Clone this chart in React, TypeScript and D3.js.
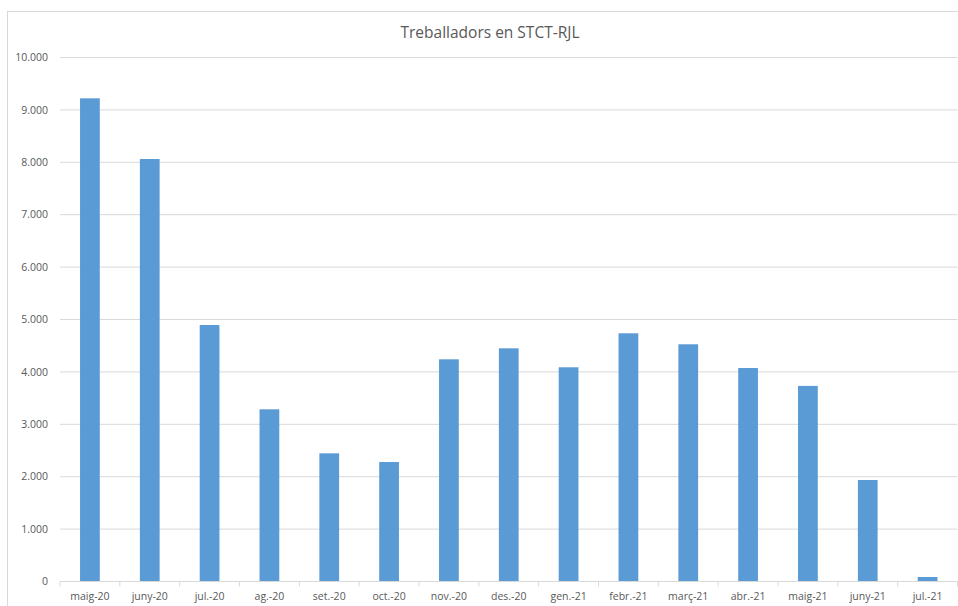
import React from "react";
import * as d3 from "d3";

const categories = ["maig-20", "juny-20", "jul.-20", "ag.-20", "set.-20", "oct.-20", "nov.-20", "des.-20", "gen.-21", "febr.-21", "març-21", "abr.-21", "maig-21", "juny-21", "jul.-21"];
const values = [9221, 8063, 4895, 3286, 2446, 2280, 4240, 4450, 4088, 4737, 4527, 4074, 3733, 1937, 86];
const yTicks = [0, 1000, 2000, 3000, 4000, 5000, 6000, 7000, 8000, 9000, 10000];
const title = "Treballadors en STCT-RJL";

const W = 958, H = 606;
const left = 60, right = 957.5, top = 57.5, bottom = 581.5;
const font = "'Open Sans', 'Liberation Sans', sans-serif";

export default function App() {
  const x = d3.scaleBand<string>().domain(categories).range([left, right]).paddingInner(0.67).paddingOuter(0.335);
  const xc = d3.scaleBand<string>().domain(categories).range([left, right]);
  const y = d3.scaleLinear().domain([0, 10000]).range([bottom, top]);
  const fmt = (v: number) => d3.formatLocale({ decimal: ",", thousands: ".", grouping: [3], currency: ["", "€"] }).format(",")(v);
  return (
    <svg width={W} height={H} style={{ position: "absolute", left: 0, top: 0, background: "#fff" }} fontFamily={font}>
      <rect x={7.5} y={11.5} width={W} height={H} fill="#fff" stroke="#d9d9d9" />
      <text x={490} y={38} textAnchor="middle" fontSize={15.5} fill="#595959">{title}</text>
      {yTicks.map((t) => (
        <g key={t}>
          {t > 0 && <line x1={left} x2={right} y1={y(t)} y2={y(t)} stroke="#d9d9d9" strokeWidth={1} />}
          <text x={48} y={y(t)} dy="0.35em" textAnchor="end" fontSize={10.5} fill="#595959">{fmt(t)}</text>
        </g>
      ))}
      {categories.map((c, i) => (
        <rect key={c} x={x(c)} y={y(values[i])} width={x.bandwidth()} height={y(0) - y(values[i])} fill="#5b9bd5" />
      ))}
      <line x1={left} x2={right} y1={bottom} y2={bottom} stroke="#d9d9d9" />
      {categories.map((c) => (
        <line key={"t" + c} x1={xc(c)} x2={xc(c)} y1={bottom} y2={bottom + 5} stroke="#d9d9d9" />
      ))}
      <line x1={right} x2={right} y1={bottom} y2={bottom + 5} stroke="#d9d9d9" />
      {categories.map((c) => (
        <text key={"l" + c} x={(xc(c) as number) + xc.bandwidth() / 2} y={596} dy="0.35em" textAnchor="middle" fontSize={10.5} fill="#595959">{c}</text>
      ))}
    </svg>
  );
}
